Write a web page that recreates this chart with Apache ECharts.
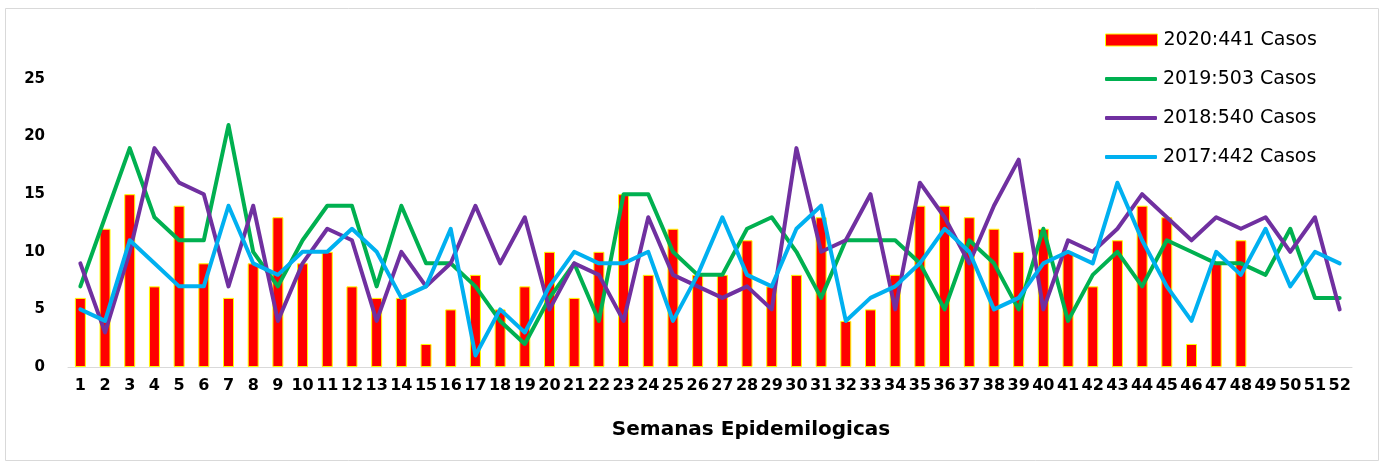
<!DOCTYPE html>
<html>
<head>
<meta charset="utf-8">
<script src="https://cdn.jsdelivr.net/npm/echarts@6/dist/echarts.min.js"></script>
<style>
html,body{margin:0;padding:0;background:#fff;}
#chart{width:1387px;height:464px;}
</style>
</head>
<body>
<div id="chart"></div>
<script>
const weeks = Array.from({length: 52}, (_, i) => String(i + 1));
const yTicks = [0, 5, 10, 15, 20, 25];
const names = ['2020:441 Casos', '2019:503 Casos', '2018:540 Casos', '2017:442 Casos'];
const y2020 = [6,12,15,7,14,9,6,9,13,9,10,7,6,6,2,5,8,5,7,10,6,10,15,8,12,8,8,11,7,8,13,4,5,8,14,14,13,12,10,12,10,7,11,14,13,2,9,11];
const y2019 = [7,13,19,13,11,11,21,10,7,11,14,14,7,14,9,9,7,4,2,6,9,4,15,15,10,8,8,12,13,10,6,11,11,11,9,5,11,9,5,12,4,8,10,7,11,10,9,9,8,12,6,6];
const y2018 = [9,3,10,19,16,15,7,14,4,9,12,11,4,10,7,9,14,9,13,5,9,8,4,13,8,7,6,7,5,19,10,11,15,5,16,13,9,14,18,5,11,10,12,15,13,11,13,12,13,10,13,5];
const y2017 = [5,4,11,9,7,7,14,9,8,10,10,12,10,6,7,12,1,5,3,7,10,9,9,10,4,8,13,8,7,12,14,4,6,7,9,12,10,5,6,9,10,9,16,11,7,4,10,8,12,7,10,9];
const colors = ['#FF0000', '#00B050', '#7030A0', '#00B0F0'];

const chart = echarts.init(document.getElementById('chart'), null, {renderer: 'canvas'});

function mkLegend(i, centerY) {
  const isBar = i === 0;
  const h = isBar ? 12 : 4;
  return {
    data: [names[i]],
    orient: 'vertical',
    left: 1105,
    top: centerY - 10,
    padding: 0,
    icon: isBar ? 'rect' : 'roundRect',
    itemWidth: 52,
    itemHeight: h,
    itemGap: 0,
    itemStyle: isBar ? {color: colors[0], borderColor: '#FFFF00', borderWidth: 1} : {color: colors[i], borderWidth: 0},
    textStyle: {fontFamily: 'DejaVu Sans', fontSize: 19, color: '#000', lineHeight: 20, padding: [0, 0, 0, 1]},
    selectedMode: false
  };
}

const lineSeries = (i, data) => ({
  name: names[i],
  type: 'line',
  data: data,
  showSymbol: false,
  symbol: 'none',
  lineStyle: {color: colors[i], width: 4, cap: 'round', join: 'round'},
  itemStyle: {color: colors[i]},
  z: 3 + i
});

chart.setOption({
  animation: false,
  backgroundColor: '#fff',
  graphic: [
    {type: 'rect', shape: {x: 5.5, y: 8.5, width: 1373, height: 452}, style: {fill: 'none', stroke: '#d9d9d9', lineWidth: 1}, z: -10},
    {type: 'text', x: 751, y: 430, style: {text: 'Semanas Epidemilogicas', font: 'bold 20px "DejaVu Sans"', fill: '#000', textAlign: 'center', textVerticalAlign: 'middle'}}
  ],
  legend: [mkLegend(0, 40), mkLegend(1, 79), mkLegend(2, 118), mkLegend(3, 157)],
  grid: {left: 68, right: 35, top: 79, bottom: 97},
  xAxis: {
    type: 'category',
    data: weeks,
    boundaryGap: true,
    axisLine: {lineStyle: {color: '#d9d9d9', width: 1}},
    axisTick: {show: false},
    axisLabel: {interval: 0, margin: 11, color: '#000', fontFamily: 'DejaVu Sans', fontWeight: 'bold', fontSize: 16}
  },
  yAxis: {
    type: 'value',
    min: yTicks[0],
    max: yTicks[yTicks.length - 1],
    interval: 5,
    splitLine: {show: false},
    axisLine: {show: false},
    axisTick: {show: false},
    axisLabel: {margin: 23, color: '#000', fontFamily: 'DejaVu Sans', fontWeight: 'bold', fontSize: 15}
  },
  series: [
    {
      name: names[0],
      type: 'bar',
      data: y2020,
      barWidth: 11,
      itemStyle: {color: colors[0], borderColor: '#FFFF00', borderWidth: 1},
      z: 2
    },
    lineSeries(1, y2019),
    lineSeries(2, y2018),
    lineSeries(3, y2017)
  ]
});
</script>
</body>
</html>
